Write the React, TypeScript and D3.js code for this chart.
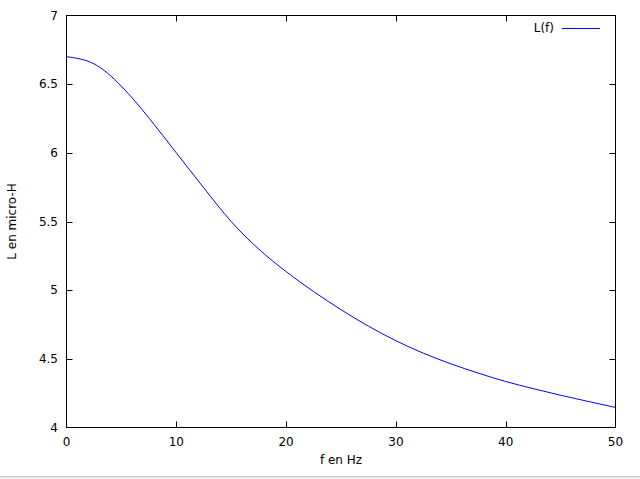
import React, { useEffect, useRef } from 'react';
import * as d3 from 'd3';

// values
const freqs = [0, 2.5, 5, 7.5, 10, 12.5, 15, 17.5, 20, 22.5, 25, 27.5, 30, 32.5, 35, 37.5, 40, 42.5, 45, 47.5, 50];
const inductance = [6.70, 6.648, 6.485, 6.255, 6.0, 5.745, 5.50, 5.30, 5.135, 4.99, 4.858, 4.738, 4.632, 4.541, 4.464, 4.396, 4.335, 4.283, 4.235, 4.19, 4.146];
const xTicks = [0, 10, 20, 30, 40, 50];
const yTicks = [4, 4.5, 5, 5.5, 6, 6.5, 7];

const W = 640;
const H = 479;

export default function App() {
  const ref = useRef<SVGSVGElement>(null);

  useEffect(() => {
    const svg = d3.select(ref.current);
    svg.selectAll('*').remove();

    const left = 66.5, right = 615.5, top = 15.5, bottom = 427.5;
    const x = d3.scaleLinear().domain([0, 50]).range([left, right]);
    const y = d3.scaleLinear().domain([4, 7]).range([bottom, top]);
    const font = 'DejaVu Sans, sans-serif';

    svg.append('rect').attr('width', W).attr('height', H).attr('fill', '#fff');

    // window edge at the bottom
    svg.append('rect').attr('x', 0).attr('y', 476).attr('width', W).attr('height', 3).attr('fill', '#ededed');
    svg.append('line').attr('x1', 0).attr('x2', W).attr('y1', 476.5).attr('y2', 476.5).attr('stroke', '#c4c4c4');

    const g = svg.append('g');
    const tickLen = 6;

    xTicks.forEach(t => {
      const px = Math.round(x(t)) + 0.5;
      if (t > 0 && t < 50) {
        g.append('line').attr('x1', px).attr('x2', px).attr('y1', bottom).attr('y2', bottom - tickLen).attr('stroke', '#000');
        g.append('line').attr('x1', px).attr('x2', px).attr('y1', top).attr('y2', top + tickLen).attr('stroke', '#000');
      }
      g.append('text').attr('x', x(t)).attr('y', 446).attr('text-anchor', 'middle')
        .attr('font-family', font).attr('font-size', 12).attr('fill', '#000').text(t);
    });

    yTicks.forEach(t => {
      const py = Math.round(y(t)) + 0.5;
      if (t > 4 && t < 7) {
        g.append('line').attr('x1', left).attr('x2', left + tickLen).attr('y1', py).attr('y2', py).attr('stroke', '#000');
        g.append('line').attr('x1', right).attr('x2', right - tickLen).attr('y1', py).attr('y2', py).attr('stroke', '#000');
      }
      g.append('text').attr('x', 58).attr('y', y(t) + 4.3).attr('text-anchor', 'end')
        .attr('font-family', font).attr('font-size', 12).attr('fill', '#000').text(t);
    });

    // the curve
    const line = d3.line<number>()
      .x((d, i) => x(freqs[i]))
      .y(d => y(d))
      .curve(d3.curveNatural);
    g.append('path').datum(inductance).attr('d', line).attr('fill', 'none')
      .attr('stroke', '#0000ff').attr('stroke-width', 1);

    // border
    g.append('rect').attr('x', left).attr('y', top).attr('width', right - left).attr('height', bottom - top)
      .attr('fill', 'none').attr('stroke', '#000');

    // axis labels
    g.append('text').attr('x', (left + right) / 2).attr('y', 463.5).attr('text-anchor', 'middle')
      .attr('font-family', font).attr('font-size', 12).attr('fill', '#000').text('f en Hz');
    g.append('text').attr('transform', `translate(15.5,${(top + bottom) / 2}) rotate(-90)`)
      .attr('text-anchor', 'middle').attr('font-family', font).attr('font-size', 12).attr('fill', '#000')
      .text('L en micro-H');

    // legend
    g.append('text').attr('x', 554).attr('y', 32).attr('text-anchor', 'end')
      .attr('font-family', font).attr('font-size', 12).attr('fill', '#000').text('L(f)');
    g.append('line').attr('x1', 562).attr('x2', 600).attr('y1', 28.5).attr('y2', 28.5)
      .attr('stroke', '#0000ff');
  }, []);

  return (
    <svg ref={ref} width={W} height={H}
      style={{ position: 'absolute', left: 0, top: 0, display: 'block' }} />
  );
}
